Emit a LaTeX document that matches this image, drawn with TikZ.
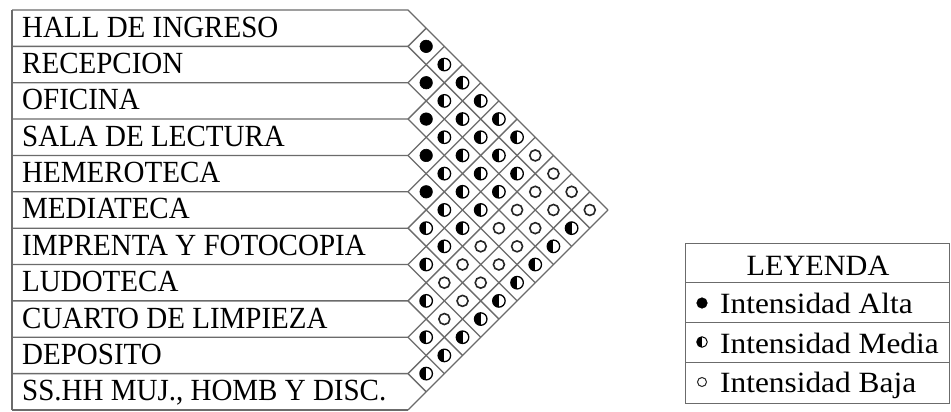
\documentclass[tikz,border=0pt]{standalone}
\usepackage{fontspec}
\setmainfont{Liberation Serif}
\usepackage{graphicx}
\newcommand\labfont{\fontsize{29}{30}\selectfont}
\newcommand\legfont{\fontsize{28}{30}\selectfont}
\tikzset{
  gridline/.style={draw=black!58, line width=1.3pt},
  rowlabel/.style={anchor=base west, inner sep=0pt, font=\labfont},
  legtext/.style={anchor=base west, inner sep=0pt, font=\legfont},
  alta/.style={circle, fill=black, draw=black, line width=0.6pt, minimum size=12.5pt, inner sep=0pt},
  media/.style={circle, draw=black, line width=1.3pt, minimum size=12.5pt, inner sep=0pt,
     path picture={\fill[black] (path picture bounding box.north) rectangle (path picture bounding box.south west);}},
  baja/.style={circle, draw=black!85, line width=1.6pt, minimum size=11pt, inner sep=0pt},
}
\begin{document}
\begin{tikzpicture}[x=1pt,y=-1pt]
\useasboundingbox[fill=white] (0,0) rectangle (951,412);
\def\h{36.36}
\def\xr{408}
\def\yt{10}
% row boxes and diamond grid
\foreach \k in {0,...,11}{
  \pgfmathsetmacro\yk{\yt+\k*\h}
  \pgfmathsetmacro\td{(11-\k)*\h/2}
  \pgfmathsetmacro\tu{\k*\h/2}
  \draw[gridline] (12,\yk) -- (\xr,\yk) -- ++(\td,\td);
  \draw[gridline] (\xr,\yk) -- ++(\tu,-\tu);
}
\draw[gridline] (12,\yt) -- (12,{\yt+11*\h});
% row labels
\node[rowlabel] (r1)  at (22,{\yt+0.5*\h+9})  {\scalebox{1}[1.06]{HALL DE INGRESO}};
\node[rowlabel] (r2)  at (22,{\yt+1.5*\h+9})  {\scalebox{1}[1.06]{RECEPCION}};
\node[rowlabel] (r3)  at (22,{\yt+2.5*\h+9})  {\scalebox{1}[1.06]{OFICINA}};
\node[rowlabel] (r4)  at (22,{\yt+3.5*\h+9})  {\scalebox{1}[1.06]{SALA DE LECTURA}};
\node[rowlabel] (r5)  at (22,{\yt+4.5*\h+9})  {\scalebox{1}[1.06]{HEMEROTECA}};
\node[rowlabel] (r6)  at (22,{\yt+5.5*\h+9})  {\scalebox{1}[1.06]{MEDIATECA}};
\node[rowlabel] (r7)  at (22,{\yt+6.5*\h+9})  {\scalebox{1}[1.06]{IMPRENTA Y FOTOCOPIA}};
\node[rowlabel] (r8)  at (22,{\yt+7.5*\h+9})  {\scalebox{1}[1.06]{LUDOTECA}};
\node[rowlabel] (r9)  at (22,{\yt+8.5*\h+9})  {\scalebox{1}[1.06]{CUARTO DE LIMPIEZA}};
\node[rowlabel] (r10) at (22,{\yt+9.5*\h+9})  {\scalebox{1}[1.06]{DEPOSITO}};
\node[rowlabel] (r11) at (22,{\yt+10.5*\h+9}) {\scalebox{1}[1.06]{SS.HH MUJ., HOMB Y DISC.}};
% matrix symbols
\foreach \i/\j in {1/2,2/3,3/4,4/5,5/6}
  \node[alta] (c\i-\j) at ({\xr+(\j-\i)*\h/2},{\yt+(\i+\j-1)*\h/2}) {};
\foreach \i/\j in {1/3,1/4,2/4,1/5,2/5,1/6,3/5,2/6,1/7,3/6,2/7,4/6,3/7,2/8,4/7,3/8,5/7,4/8,6/7,5/8,2/11,6/8,3/11,7/8,4/11,5/11,8/9,6/11,7/11,9/10,8/11,9/11,10/11}
  \node[media] (c\i-\j) at ({\xr+(\j-\i)*\h/2},{\yt+(\i+\j-1)*\h/2}) {};
\foreach \i/\j in {1/8,1/9,2/9,1/10,3/9,2/10,1/11,4/9,3/10,5/9,4/10,6/9,5/10,7/9,6/10,7/10,8/10}
  \node[baja] (c\i-\j) at ({\xr+(\j-\i)*\h/2},{\yt+(\i+\j-1)*\h/2}) {};
% legend
\draw[gridline, line width=1pt] (685,243) rectangle (949,403);
\draw[gridline, line width=1pt] (685,282) -- (949,282);
\draw[gridline, line width=1pt] (685,322) -- (949,322);
\draw[gridline, line width=1pt] (685,362) -- (949,362);
\node[anchor=base, inner sep=0pt, font=\legfont] (lt) at (818,275) {\scalebox{1.08}[1.05]{LEYENDA}};
\node[alta, minimum size=10.5pt] (la) at (702,303) {};
\node[legtext] (lta) at (720,313) {\scalebox{1.12}[1.05]{Intensidad Alta}};
\node[media, minimum size=10.5pt, line width=1pt] (lm) at (702,342) {};
\node[legtext] (ltm) at (720,353) {\scalebox{1.12}[1.05]{Intensidad Media}};
\node[baja, minimum size=9pt, line width=1pt] (lb) at (702,382) {};
\node[legtext] (ltb) at (720,392) {\scalebox{1.12}[1.05]{Intensidad Baja}};
\end{tikzpicture}
\end{document}
